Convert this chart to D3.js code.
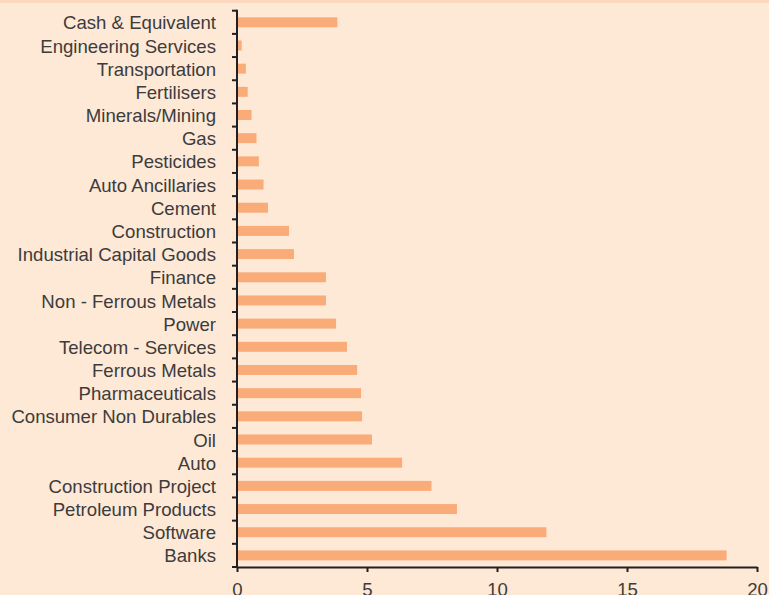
<!DOCTYPE html>
<html>
<head>
<meta charset="utf-8">
<script src="https://cdn.jsdelivr.net/npm/d3@7"></script>
<style>
  html, body { margin: 0; padding: 0; background: #fee8d6; }
  svg { display: block; }
</style>
</head>
<body>
<div id="chart"></div>
<script>
// sector names, top to bottom
const sectors = [
  "Cash & Equivalent", "Engineering Services", "Transportation", "Fertilisers",
  "Minerals/Mining", "Gas", "Pesticides", "Auto Ancillaries", "Cement",
  "Construction", "Industrial Capital Goods", "Finance", "Non - Ferrous Metals",
  "Power", "Telecom - Services", "Ferrous Metals", "Pharmaceuticals",
  "Consumer Non Durables", "Oil", "Auto", "Construction Project",
  "Petroleum Products", "Software", "Banks"
];
// % of net assets
const weights = [
  3.86, 0.18, 0.34, 0.41, 0.56, 0.75, 0.84, 1.02, 1.19,
  2.0, 2.19, 3.42, 3.42, 3.81, 4.23, 4.62, 4.77,
  4.81, 5.19, 6.35, 7.48, 8.46, 11.9, 18.83
];
const xTicks = [0, 5, 10, 15, 20];

const width = 769, height = 595;
const plotLeft = 237, plotRight = 757, plotTop = 10.7, plotBottom = 567;
const ink = "#231f20", textCol = "#3c3c3c", barCol = "#f9ab78";

const svg = d3.select("#chart").append("svg")
  .attr("width", width)
  .attr("height", height)
  .style("font-family", "'Liberation Sans', Arial, Helvetica, sans-serif");

svg.append("rect").attr("width", width).attr("height", height).attr("fill", "#fee8d6");
svg.append("rect").attr("width", width).attr("height", 3).attr("fill", "#fdd8be");

const x = d3.scaleLinear().domain([0, 20]).range([plotLeft, plotRight]);
const y = d3.scaleBand().domain(sectors).range([plotTop, plotBottom])
  .paddingInner(0.57).paddingOuter(0.285);

// bars
svg.append("g").selectAll("rect")
  .data(sectors)
  .join("rect")
  .attr("x", x(0))
  .attr("y", d => y(d))
  .attr("width", (d, i) => x(weights[i]) - x(0))
  .attr("height", y.bandwidth())
  .attr("fill", barCol);

// category labels
const yAxis = svg.append("g")
  .attr("transform", `translate(${plotLeft},0)`)
  .call(d3.axisLeft(y).tickSize(0).tickPadding(21));
yAxis.select(".domain").remove();
yAxis.selectAll("text")
  .attr("font-size", 18.6).attr("fill", textCol).attr("font-family", null)
  .attr("dy", "0.38em");

// tick marks between categories
const bounds = d3.range(sectors.length + 1).map(i => plotTop + i * y.step());
svg.append("g").selectAll("line")
  .data(bounds)
  .join("line")
  .attr("x1", plotLeft - 5).attr("x2", plotLeft)
  .attr("y1", d => d).attr("y2", d => d)
  .attr("stroke", ink).attr("stroke-width", 2);

svg.append("line")
  .attr("x1", plotLeft).attr("x2", plotLeft)
  .attr("y1", plotTop - 1).attr("y2", plotBottom + 1)
  .attr("stroke", ink).attr("stroke-width", 2);

// x axis (labels run off the bottom edge, as in the original)
const xAxis = svg.append("g")
  .attr("transform", `translate(0,${plotBottom})`)
  .call(d3.axisBottom(x).tickValues(xTicks).tickSize(5).tickPadding(11).tickSizeOuter(0));
xAxis.select(".domain").attr("stroke", ink).attr("stroke-width", 2);
xAxis.selectAll(".tick line").attr("stroke", ink).attr("stroke-width", 2);
xAxis.selectAll("text").attr("font-size", 18.6).attr("fill", textCol).attr("font-family", null);
</script>
</body>
</html>
